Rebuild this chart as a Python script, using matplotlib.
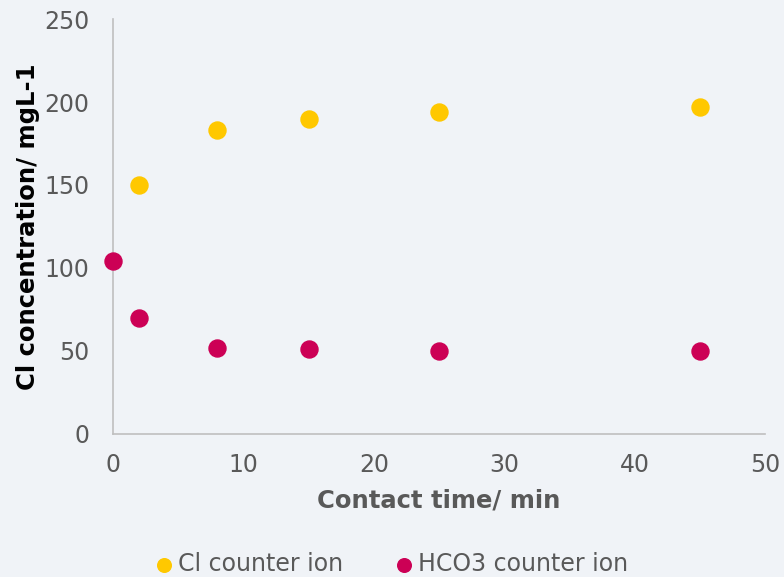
import matplotlib.pyplot as plt

# contact time (min) and concentration (mg/L)
cl_time = [2, 8, 15, 25, 45]
cl_conc = [150, 183, 190, 194, 197]
hco3_time = [0, 2, 8, 15, 25, 45]
hco3_conc = [104, 70, 52, 51, 50, 50]

x_ticks = [0, 10, 20, 30, 40, 50]
y_ticks = [0, 50, 100, 150, 200, 250]

bg = '#F0F3F7'
grey = '#595959'

fig = plt.figure(figsize=(7.84, 5.77), dpi=100, facecolor=bg)
ax = fig.add_axes([0.144, 0.248, 0.832, 0.719], facecolor=bg)

ax.scatter(cl_time, cl_conc, s=150, color='#FFC800', label='Cl counter ion',
           zorder=3, clip_on=False)
ax.scatter(hco3_time, hco3_conc, s=150, color='#CC0055', label='HCO3 counter ion',
           zorder=3, clip_on=False)

ax.set_xlim(0, 50)
ax.set_ylim(0, 250)
ax.set_xticks(x_ticks)
ax.set_yticks(y_ticks)
ax.tick_params(length=0, labelsize=17, labelcolor=grey)
ax.tick_params(axis='x', pad=14)
ax.tick_params(axis='y', pad=17)

for side in ['top', 'right']:
    ax.spines[side].set_visible(False)
for side in ['left', 'bottom']:
    ax.spines[side].set_color('#BFBFBF')
    ax.spines[side].set_linewidth(1.2)

ax.set_xlabel('Contact time/ min', fontsize=17.5, fontweight='bold', color=grey,
              labelpad=8)
ax.set_ylabel('Cl concentration/ mgL-1', fontsize=17.5, fontweight='bold',
              color='black', labelpad=3)

fig.legend(loc='lower center', bbox_to_anchor=(0.5, -0.035), ncol=2, frameon=False,
           fontsize=17, labelcolor=grey, markerscale=0.8, handlelength=0.7,
           handletextpad=0.25, columnspacing=2.2)

fig.savefig('out.png', dpi=100, facecolor=bg)
